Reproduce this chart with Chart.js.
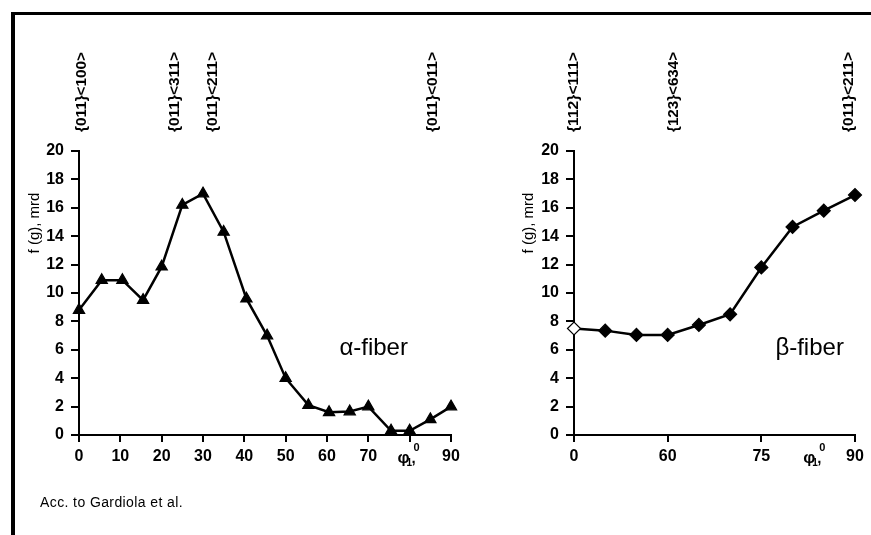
<!DOCTYPE html>
<html>
<head>
<meta charset="utf-8">
<script src="https://cdn.jsdelivr.net/npm/chart.js@4.4.0/dist/chart.umd.min.js"></script>
<style>
  body { margin: 0; background: #fff; }
  #page { position: relative; width: 871px; height: 535px; overflow: hidden; background: #fff;
          font-family: "Liberation Sans", Arial, sans-serif; color: #000; }
  #frame { position: absolute; left: 11px; top: 12px; width: 900px; height: 600px;
           border-left: 4px solid #000; border-top: 3px solid #000; }
  #note { position: absolute; left: 40px; top: 494px; font-size: 14px; letter-spacing: 0.4px; }
</style>
</head>
<body>
<div id="page">
  <div id="frame"></div>
  <canvas id="alphaChart" width="460" height="535" style="position:absolute;left:0;top:0"></canvas>
  <canvas id="betaChart" width="411" height="535" style="position:absolute;left:460px;top:0"></canvas>
  <div id="note">Acc. to Gardiola et al.</div>
</div>
<script>
// alpha-fiber: phi1 (deg) and f(g) (mrd)
const alphaPhi = [0, 5.5, 10.5, 15.5, 20, 25, 30, 35, 40.5, 45.5, 50, 55.5, 60.5, 65.5, 70, 75.5, 80, 85, 90];
const alphaVal = [8.8, 10.9, 10.9, 9.5, 11.85, 16.2, 17.0, 14.3, 9.6, 7.0, 4.0, 2.1, 1.6, 1.65, 2.0, 0.3, 0.3, 1.1, 2.0];
const alphaOrient = ['{011}<100>', '{011}<311>', '{011}<211>', '{011}<011>'];
const alphaOrientAt = [0.7, 23.2, 32.4, 85.7];

// beta-fiber: points along the fibre, ticks labelled 0, 60, 75, 90
const betaPos = [0, 1, 2, 3, 4, 5, 6, 7, 8, 9];
const betaVal = [7.5, 7.35, 7.05, 7.05, 7.75, 8.5, 11.8, 14.65, 15.8, 16.9];
const betaTickAt = [0, 3, 6, 9];
const betaTickLabels = ['0', '60', '75', '90'];
const betaOrient = ['{112}<111>', '{123}<634>', '{011}<211>'];
const betaOrientAt = [0, 3.2, 8.8];

const FONT = '"Liberation Sans", Arial, sans-serif';

function scalesFor(xMin, xMax, step, yAxisWidth, xTickLabel, fixedTicks) {
  const x = {
    type: 'linear', min: xMin, max: xMax,
    border: { display: true, color: '#000', width: 2 },
    grid: { display: true, drawOnChartArea: false, drawTicks: true, tickLength: 7, color: '#000', lineWidth: 2 },
    ticks: { stepSize: step, color: '#000', padding: 5, maxRotation: 0, autoSkip: false,
             font: { family: FONT, size: 16, weight: 'bold' }, callback: xTickLabel },
    afterFit(s) { s.height = 40; s.paddingLeft = 0; s.paddingRight = 0; }
  };
  if (fixedTicks) x.afterBuildTicks = s => { s.ticks = fixedTicks.map(v => ({ value: v })); };
  const y = {
    type: 'linear', min: 0, max: 20,
    border: { display: true, color: '#000', width: 2 },
    grid: { display: true, drawOnChartArea: false, drawTicks: true, tickLength: 8, color: '#000', lineWidth: 2 },
    ticks: { stepSize: 2, color: '#000', padding: 7, font: { family: FONT, size: 16, weight: 'bold' } },
    afterFit(s) { s.width = yAxisWidth; s.paddingTop = 0; s.paddingBottom = 0; }
  };
  return { x, y };
}

// labels, axis title and fibre name drawn on top of each chart
function overlay(orient, orientAt, titleX, name, nameAt, phiAt) {
  return {
    id: 'overlay',
    afterDraw(chart) {
      const { ctx, scales: { x, y } } = chart;
      ctx.save();
      ctx.fillStyle = '#000';
      // orientation names, rotated
      ctx.font = 'bold 14px ' + FONT;
      ctx.textAlign = 'center';
      ctx.textBaseline = 'middle';
      orient.forEach((t, i) => {
        ctx.save();
        ctx.translate(x.getPixelForValue(orientAt[i]), 92);
        ctx.rotate(-Math.PI / 2);
        const w = ctx.measureText(t).width;
        ctx.scale(80 / w, 1);
        ctx.fillText(t, 0, 0);
        ctx.restore();
      });
      // y axis title
      ctx.save();
      ctx.translate(titleX, 223);
      ctx.rotate(-Math.PI / 2);
      ctx.font = '15px ' + FONT;
      ctx.fillText('f (g), mrd', 0, 0);
      ctx.restore();
      // fibre name
      ctx.font = '24px ' + FONT;
      ctx.textAlign = 'left';
      ctx.fillText(name, x.getPixelForValue(nameAt[0]), y.getPixelForValue(nameAt[1]));
      // phi1, degree label on the x axis
      const px = x.getPixelForValue(phiAt);
      const base = y.bottom + 28;
      ctx.textBaseline = 'alphabetic';
      ctx.font = 'bold 17px ' + FONT;
      ctx.fillText('φ', px - 8, base);
      ctx.font = 'bold 10px ' + FONT;
      ctx.fillText('1', px + 1, base + 3);
      ctx.font = 'bold 15px ' + FONT;
      ctx.fillText(',', px + 6, base);
      ctx.font = 'bold 11px ' + FONT;
      ctx.fillText('0', px + 8, base - 12);
      ctx.restore();
    }
  };
}

function makeChart(id, xs, ys, style, scales, plugin, pad) {
  return new Chart(document.getElementById(id), {
    type: 'line',
    data: {
      datasets: [{
        data: xs.map((v, i) => ({ x: v, y: ys[i] })),
        borderColor: '#000', borderWidth: 2.5, tension: 0,
        pointStyle: style.shape, pointRadius: style.r, pointHoverRadius: style.r,
        pointBackgroundColor: style.fill, pointBorderColor: '#000', pointBorderWidth: 1.2,
        clip: false
      }]
    },
    options: {
      responsive: false, animation: false,
      layout: { padding: pad },
      plugins: { legend: { display: false }, tooltip: { enabled: false } },
      scales
    },
    plugins: [plugin]
  });
}

makeChart('alphaChart', alphaPhi, alphaVal,
  { shape: 'triangle', r: 6.5, fill: '#000' },
  scalesFor(0, 90, 10, 79, v => (v === 80 ? '' : String(v))),
  overlay(alphaOrient, alphaOrientAt, 35, 'α-fiber', [63, 6.1], 79),
  { left: 0, right: 9, top: 151, bottom: 60 });

makeChart('betaChart', betaPos, betaVal,
  { shape: 'rectRot', r: 6.5, fill: betaPos.map((v, i) => (i === 0 ? '#fff' : '#000')) },
  scalesFor(0, 9, 3, 114, v => betaTickLabels[betaTickAt.indexOf(v)] || '', betaTickAt),
  overlay(betaOrient, betaOrientAt, 69, 'β-fiber', [6.45, 6.1], 7.6),
  { left: 0, right: 16, top: 151, bottom: 60 });
</script>
</body>
</html>
